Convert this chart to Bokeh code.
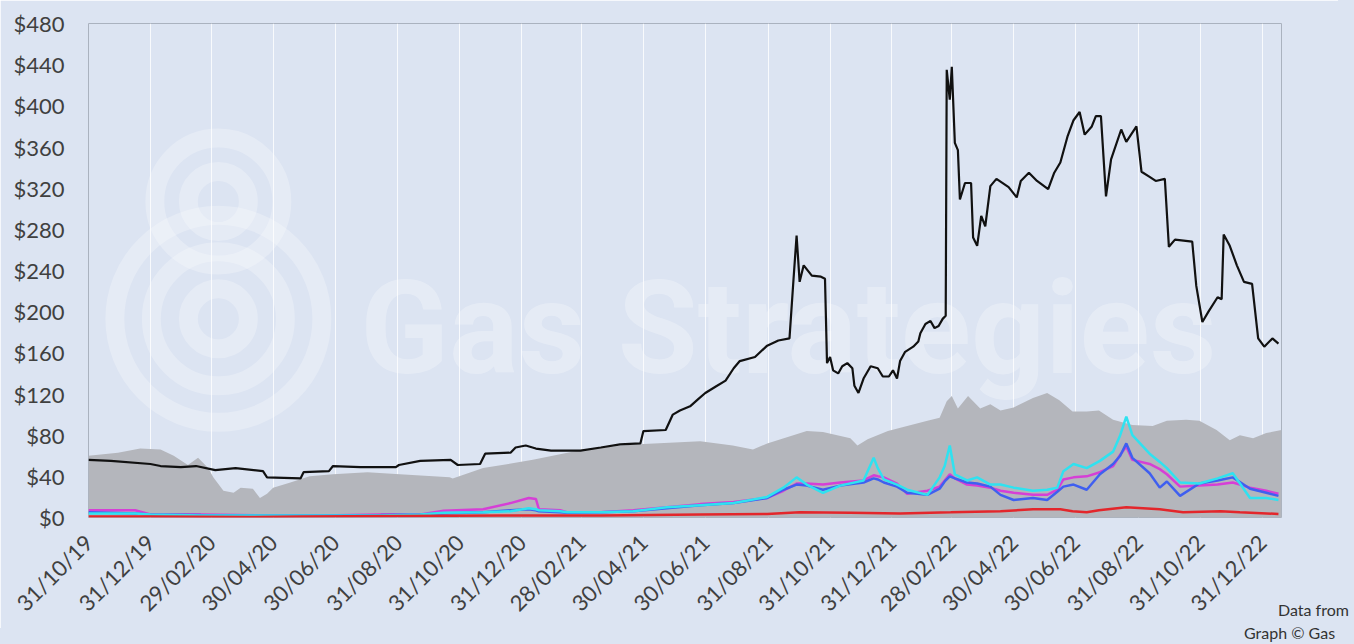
import pandas as pd
from bokeh.plotting import figure
from bokeh.layouts import column
from bokeh.models import (Range1d, FixedTicker, DatetimeTickFormatter,
                          PrintfTickFormatter, Label, Div)
from bokeh.embed import file_html
from bokeh.resources import INLINE
from math import pi

# ---------------- data ----------------
tick_labels = ["31/10/19", "31/12/19", "29/02/20", "30/04/20", "30/06/20", "31/08/20",
               "31/10/20", "31/12/20", "28/02/21", "30/04/21", "30/06/21", "31/08/21",
               "31/10/21", "31/12/21", "28/02/22", "30/04/22", "30/06/22", "31/08/22",
               "31/10/22", "31/12/22"]
y_ticks = [0, 40, 80, 120, 160, 200, 240, 280, 320, 360, 400, 440, 480]

black_dates = ["2019-10-31", "2019-11-22", "2019-12-31", "2020-01-10", "2020-01-30", "2020-02-14",
               "2020-03-04", "2020-03-24", "2020-04-20", "2020-04-24", "2020-05-27", "2020-05-30",
               "2020-06-24", "2020-06-28", "2020-07-25", "2020-08-29", "2020-09-01", "2020-09-22",
               "2020-10-22", "2020-10-29", "2020-11-20", "2020-11-25", "2020-12-20", "2020-12-25",
               "2021-01-04", "2021-01-14", "2021-01-29", "2021-02-27", "2021-03-19", "2021-04-07",
               "2021-04-27", "2021-04-30", "2021-05-22", "2021-05-29", "2021-06-05", "2021-06-15",
               "2021-06-23", "2021-06-30", "2021-07-10", "2021-07-20", "2021-07-28", "2021-08-03",
               "2021-08-18", "2021-08-30", "2021-09-10", "2021-09-21", "2021-09-25", "2021-09-28",
               "2021-10-01", "2021-10-05", "2021-10-13", "2021-10-22", "2021-10-26", "2021-10-28",
               "2021-10-31", "2021-11-03", "2021-11-08", "2021-11-12", "2021-11-17", "2021-11-22",
               "2021-11-24", "2021-11-28", "2021-12-03", "2021-12-10", "2021-12-17", "2021-12-22",
               "2021-12-28", "2022-01-01", "2022-01-05", "2022-01-08", "2022-01-13", "2022-01-21",
               "2022-01-26", "2022-01-28", "2022-02-02", "2022-02-07", "2022-02-11", "2022-02-15",
               "2022-02-19", "2022-02-22", "2022-02-23", "2022-02-26", "2022-02-28", "2022-03-03",
               "2022-03-06", "2022-03-08", "2022-03-13", "2022-03-19", "2022-03-21", "2022-03-25",
               "2022-03-29", "2022-04-02", "2022-04-07", "2022-04-13", "2022-04-25", "2022-05-03",
               "2022-05-07", "2022-05-15", "2022-05-23", "2022-06-03", "2022-06-09", "2022-06-15",
               "2022-06-22", "2022-06-28", "2022-07-04", "2022-07-09", "2022-07-16", "2022-07-20",
               "2022-07-25", "2022-07-30", "2022-08-04", "2022-08-14", "2022-08-19", "2022-08-29",
               "2022-09-03", "2022-09-11", "2022-09-17", "2022-09-26", "2022-09-30", "2022-10-06",
               "2022-10-23", "2022-10-27", "2022-11-02", "2022-11-08", "2022-11-17", "2022-11-21",
               "2022-11-23", "2022-11-29", "2022-12-06", "2022-12-13", "2022-12-21", "2022-12-27",
               "2023-01-02", "2023-01-10", "2023-01-16"]
black_vals = [56, 55, 52, 50, 49, 50,
              46, 48, 45, 39, 38, 44,
              45, 50, 49, 49, 51, 55,
              56, 51, 52, 62, 63, 68,
              70, 67, 65, 65, 68, 71,
              72, 84, 85, 100, 104, 108,
              115, 121, 127, 133, 145, 152,
              156, 167, 172, 174, 232, 274,
              229, 245, 235, 234, 232, 150,
              156, 143, 140, 147, 150, 145,
              128, 121, 135, 147, 145, 137,
              137, 143, 135, 152, 161, 166,
              171, 179, 188, 191, 184, 186,
              193, 196, 435, 406, 438, 364,
              357, 309, 325, 325, 272, 264,
              293, 283, 322, 329, 321, 311,
              327, 335, 327, 319, 335, 345,
              370, 386, 394, 372, 380, 390,
              390, 312, 348, 377, 365, 380,
              336, 331, 327, 329, 263, 270,
              268, 225, 190, 200, 214, 212,
              275, 264, 245, 229, 227, 174,
              166, 174, 169]

gray_dates = ["2019-10-31", "2019-11-29", "2019-12-21", "2020-01-10", "2020-01-23", "2020-02-06",
              "2020-02-16", "2020-02-26", "2020-03-02", "2020-03-12", "2020-03-22", "2020-03-29",
              "2020-04-10", "2020-04-17", "2020-04-24", "2020-04-30", "2020-05-17", "2020-06-05",
              "2020-06-28", "2020-08-01", "2020-09-02", "2020-10-21", "2020-10-24", "2020-11-23",
              "2021-01-11", "2021-03-02", "2021-04-20", "2021-06-25", "2021-07-27", "2021-08-16",
              "2021-08-30", "2021-10-08", "2021-10-24", "2021-11-20", "2021-11-27", "2021-12-07",
              "2021-12-27", "2022-01-15", "2022-02-04", "2022-02-16", "2022-02-23", "2022-02-28",
              "2022-03-06", "2022-03-16", "2022-03-28", "2022-04-07", "2022-04-17", "2022-04-30",
              "2022-05-19", "2022-06-02", "2022-06-14", "2022-06-27", "2022-07-11", "2022-07-23",
              "2022-08-06", "2022-08-25", "2022-09-14", "2022-09-28", "2022-10-17", "2022-10-30",
              "2022-11-16", "2022-11-29", "2022-12-09", "2022-12-22", "2023-01-04", "2023-01-19"]
gray_vals = [60, 63, 67, 66, 60, 51,
             58, 48, 39, 26, 24, 29,
             28, 19, 23, 29, 34, 40,
             42, 44, 42, 39, 38, 48,
             56, 66, 71, 74, 70, 66,
             72, 84, 83, 77, 70, 76,
             84, 89, 94, 97, 113, 118,
             106, 118, 106, 110, 104, 107,
             116, 121, 114, 103, 103, 104,
             95, 90, 89, 94, 95, 94,
             85, 75, 80, 77, 82, 85]

hub_dates = ["2019-10-31", "2019-12-16", "2019-12-31", "2020-02-19", "2020-04-17", "2020-06-16",
             "2020-08-14", "2020-09-22", "2020-10-15", "2020-11-23", "2020-12-20", "2021-01-07",
             "2021-01-14", "2021-01-17", "2021-02-07", "2021-02-14", "2021-03-19", "2021-04-20",
             "2021-05-23", "2021-06-25", "2021-07-28", "2021-08-30", "2021-09-15", "2021-09-28",
             "2021-10-08", "2021-10-24", "2021-11-10", "2021-12-03", "2021-12-13", "2021-12-17",
             "2021-12-23", "2022-01-05", "2022-01-15", "2022-02-04", "2022-02-16", "2022-02-21",
             "2022-02-26", "2022-03-03", "2022-03-15", "2022-03-25", "2022-04-07", "2022-04-17",
             "2022-04-30", "2022-05-19", "2022-06-02", "2022-06-12", "2022-06-18", "2022-06-28",
             "2022-07-11", "2022-07-24", "2022-08-06", "2022-08-13", "2022-08-19", "2022-08-25",
             "2022-09-11", "2022-09-21", "2022-09-28", "2022-10-11", "2022-10-30", "2022-11-17",
             "2022-12-02", "2022-12-19", "2023-01-04", "2023-01-16"]
magenta_vals = [7, 7, 3, 3, 2, 2,
                3, 3, 6.5, 8, 14, 19,
                18, 8, 7, 5, 5, 7,
                10, 13, 15, 19, 26, 33,
                33, 32, 34, 36, 41, 40,
                39, 33, 23, 26, 30, 36,
                42, 38, 32, 31, 29, 26,
                24, 22, 22, 27, 37, 39,
                40, 44, 50, 61, 69, 56,
                52, 47, 42, 30, 31, 32,
                34, 29, 26, 23]
blue_vals = [5, 4, 3, 2.5, 2, 2,
             2.5, 3, 4, 5, 7, 8,
             7, 6, 5, 4.5, 5, 6,
             9, 12, 14, 19, 27, 32,
             31, 27, 31, 34, 38, 37,
             34, 30, 24, 22, 28, 35,
             40, 38, 34, 33, 30, 22,
             17, 19, 17, 25, 30, 32,
             27, 42, 52, 60, 72, 58,
             43, 29, 35, 21, 33, 36,
             39, 28, 24, 21]
cyan_vals = [4, 4, 3, 2, 2, 2,
             2, 3, 4.5, 5, 6, 9,
             8, 7, 6, 5, 5, 6,
             10, 12, 14, 20, 29, 39,
             32, 24, 31, 36, 58, 48,
             37, 32, 27, 22, 39, 50,
             70, 42, 36, 39, 32, 32,
             29, 26, 27, 29, 45, 52,
             48, 55, 64, 80, 98, 80,
             62, 54, 48, 34, 33, 38,
             43, 19, 19, 17]

red_dates = ["2019-10-31", "2019-12-31", "2020-04-07", "2020-05-27", "2020-09-02", "2020-12-10",
             "2021-03-19", "2021-06-25", "2021-08-30", "2021-10-01", "2021-11-20", "2022-01-08",
             "2022-02-27", "2022-04-17", "2022-05-19", "2022-06-15", "2022-06-27", "2022-07-11",
             "2022-07-23", "2022-08-19", "2022-09-21", "2022-10-14", "2022-11-20", "2022-12-09",
             "2023-01-16"]
red_vals = [1, 1, 0.5, 1, 1.5, 2,
            2, 3, 3.5, 5, 4.5, 4,
            5, 6, 8, 8, 6, 5,
            7, 10, 8, 5, 6, 5,
            3.5]

note_lines = ["Data from", "Graph © Gas"]

# ---------------- figure ----------------
BG = "#dce4f2"
TXT = "#404040"
FONT = "Lato"

p = figure(width=1338, height=628, x_axis_type="datetime",
           output_backend="svg", toolbar_location=None,
           x_range=Range1d(pd.Timestamp("2019-10-31"), pd.Timestamp("2023-01-19")),
           y_range=Range1d(0, 480),
           min_border_left=88, min_border_right=57,
           min_border_top=23, min_border_bottom=108)
p.background_fill_color = BG
p.border_fill_color = BG
p.outline_line_color = "#aab2bf"
p.outline_line_width = 1

# watermark
wm_x = pd.Timestamp("2020-03-07")
for yv, d in [(307, 127), (307, 60), (193, 207), (193, 134), (193, 60)]:
    p.scatter([wm_x], [yv], size=d, marker="circle", fill_alpha=0,
              line_color="white", line_alpha=0.25, line_width=19)
p.add_layout(Label(x=pd.Timestamp("2020-07-25"), y=184, text="Gas Strategies",
                   text_font="Roboto", text_font_size="130px", text_font_style="bold",
                   level="underlay", text_color="white", text_alpha=0.28,
                   text_baseline="alphabetic"))

p.varea(x=pd.to_datetime(gray_dates), y1=0, y2=gray_vals, fill_color="#b4b6bc")
p.line(pd.to_datetime(hub_dates), magenta_vals, line_color="#d63fd6", line_width=2.5)
p.line(pd.to_datetime(hub_dates), blue_vals, line_color="#3f5ff0", line_width=2.5)
p.line(pd.to_datetime(hub_dates), cyan_vals, line_color="#2fe2f0", line_width=2.5)
p.line(pd.to_datetime(red_dates), red_vals, line_color="#e3262b", line_width=2.5)
p.line(pd.to_datetime(black_dates), black_vals, line_color="#111111", line_width=2.2)

# axes
tick_ms = [int(t.value // 10**6) for t in pd.to_datetime(tick_labels, format="%d/%m/%y")]
p.xaxis.ticker = FixedTicker(ticks=tick_ms)
fmt = "%d/%m/%y"
p.xaxis.formatter = DatetimeTickFormatter(days=fmt, months=fmt, years=fmt, hours=fmt,
                                          hourmin=fmt, minutes=fmt, minsec=fmt, seconds=fmt,
                                          milliseconds=fmt, microseconds=fmt)
p.xaxis.major_label_orientation = pi / 4
p.yaxis.ticker = FixedTicker(ticks=y_ticks)
p.yaxis.formatter = PrintfTickFormatter(format="$%d")
for ax in (p.xaxis, p.yaxis):
    ax.axis_line_color = None
    ax.major_tick_line_color = None
    ax.minor_tick_line_color = None
    ax.major_tick_out = 0
    ax.major_tick_in = 0
    ax.major_label_text_font = FONT
    ax.major_label_text_font_size = "22px"
    ax.major_label_text_color = TXT
p.yaxis.major_label_standoff = 24
p.xaxis.major_label_standoff = 21

p.xgrid.grid_line_color = "white"
p.xgrid.grid_line_width = 1
p.xgrid.grid_line_alpha = 0.8
p.ygrid.grid_line_color = None

# background strips so the page colour continues to the window edge
strip_r = Div(text="", width=1, height=1, margin=0,
              styles={"position": "absolute", "left": "1338px", "top": "0px",
                      "width": "16px", "height": "644px", "background": BG, "z-index": "1"})
strip_b = Div(text="", width=1, height=1, margin=0,
              styles={"position": "absolute", "left": "0px", "top": "628px",
                      "width": "1354px", "height": "16px", "background": BG, "z-index": "1"})

# source notes, placed over the bottom-right corner of the chart
note = Div(text=('<div style="padding-left:34px">%s</div><div>%s</div>' % tuple(note_lines)),
           width=110, height=46, margin=0,
           styles={"position": "absolute", "left": "1244px", "top": "598px",
                   "width": "110px", "height": "46px", "background": BG,
                   "font-family": "Lato", "font-size": "16px", "color": "#333333",
                   "line-height": "23px", "white-space": "nowrap", "z-index": "5"})

layout = column(p, strip_r, strip_b, note)
open("out.html", "w").write(file_html(layout, INLINE))
